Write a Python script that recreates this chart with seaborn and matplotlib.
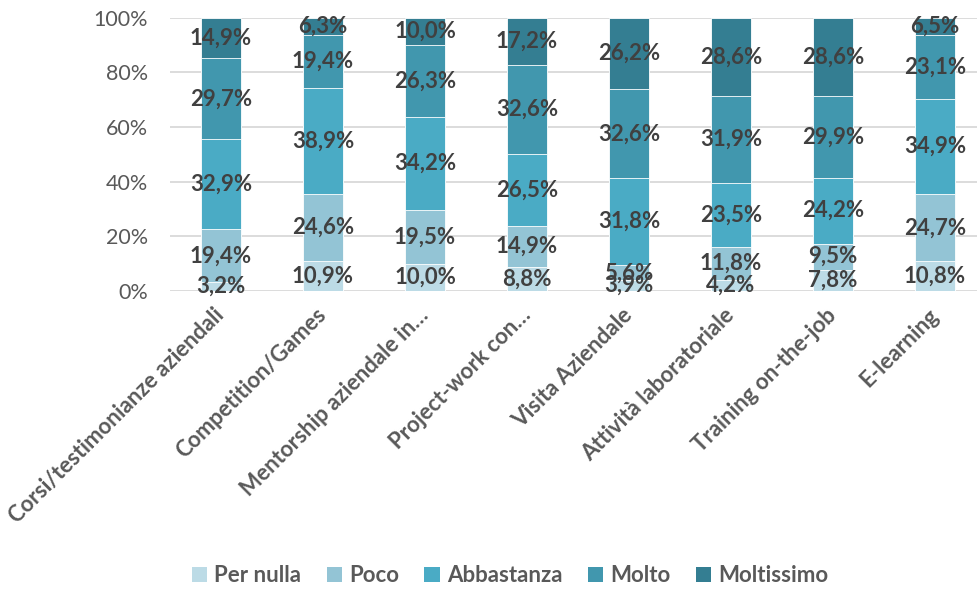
import numpy as np
import pandas as pd
import seaborn as sns
import matplotlib.pyplot as plt
from matplotlib.patches import Patch

# Categories and series (percent values)
categories = ['Corsi/testimonianze aziendali', 'Competition/Games', 'Mentorship aziendale in…',
              'Project-work con…', 'Visita Aziendale', 'Attività laboratoriale',
              'Training on-the-job', 'E-learning']
series = ['Per nulla', 'Poco', 'Abbastanza', 'Molto', 'Moltissimo']
per_nulla = [3.2, 10.9, 10.0, 8.8, 3.9, 4.2, 7.8, 10.8]
poco = [19.4, 24.6, 19.5, 14.9, 5.6, 11.8, 9.5, 24.7]
abbastanza = [32.9, 38.9, 34.2, 26.5, 31.8, 23.5, 24.2, 34.9]
molto = [29.7, 19.4, 26.3, 32.6, 32.6, 31.9, 29.9, 23.1]
moltissimo = [14.9, 6.3, 10.0, 17.2, 26.2, 28.6, 28.6, 6.5]
colors = ['#bcdbe6', '#93c4d5', '#4aabc5', '#4197ae', '#347e92']

values = np.array([per_nulla, poco, abbastanza, molto, moltissimo])
shares = values / values.sum(axis=0) * 100
tops = shares.cumsum(axis=0)

sns.set_style('white')
plt.rcParams['font.family'] = ['Lato', 'DejaVu Sans']

fig = plt.figure(figsize=(9.77, 5.90), dpi=100)
ax = fig.add_axes([170 / 977, 299 / 590, 816 / 977, 273.3 / 590])

# stacked bars: draw cumulative totals from the top series down
for i in range(len(series) - 1, -1, -1):
    df = pd.DataFrame({'cat': categories, 'top': tops[i]})
    sns.barplot(data=df, x='cat', y='top', color=colors[i], width=0.4,
                saturation=1, edgecolor='white', linewidth=0.6, ax=ax, zorder=2)

# data labels at the middle of each segment
for i in range(len(series)):
    for j in range(len(categories)):
        mid = tops[i, j] - shares[i, j] / 2
        ax.text(j, mid, f'{values[i, j]:.1f}%'.replace('.', ','), ha='center', va='center',
                fontsize=16, fontweight='bold', color='#404040', zorder=3)

ax.set_ylim(0, 100)
ax.set_xlim(-0.5, len(categories) - 0.5)
ax.set_yticks(range(0, 101, 20))
ax.set_yticklabels([f'{v}%' for v in range(0, 101, 20)], fontsize=15.5, color='#595959')
ax.set_xlabel('')
ax.set_ylabel('')
ax.set_xticks(range(len(categories)))
ax.set_xticklabels(categories, rotation=45, ha='right', va='center', rotation_mode='anchor',
                   fontsize=16, fontweight='bold', color='#595959')
ax.tick_params(axis='y', length=0, pad=16)
ax.tick_params(axis='x', length=0, pad=15)
ax.yaxis.grid(True, color='#d9d9d9', linewidth=1.3, zorder=0)
ax.set_axisbelow(True)
for s in ax.spines.values():
    s.set_visible(False)

handles = [Patch(facecolor=c, edgecolor='none') for c in colors]
leg = fig.legend(handles, series, loc='center', bbox_to_anchor=(0.522, 0.024), ncol=5,
                 frameon=False, handlelength=0.7, handleheight=0.7, handletextpad=0.3,
                 columnspacing=1.15, prop={'size': 16, 'weight': 'bold'})
for t in leg.get_texts():
    t.set_color('#595959')

plt.savefig('out.png', dpi=100)
plt.close()
